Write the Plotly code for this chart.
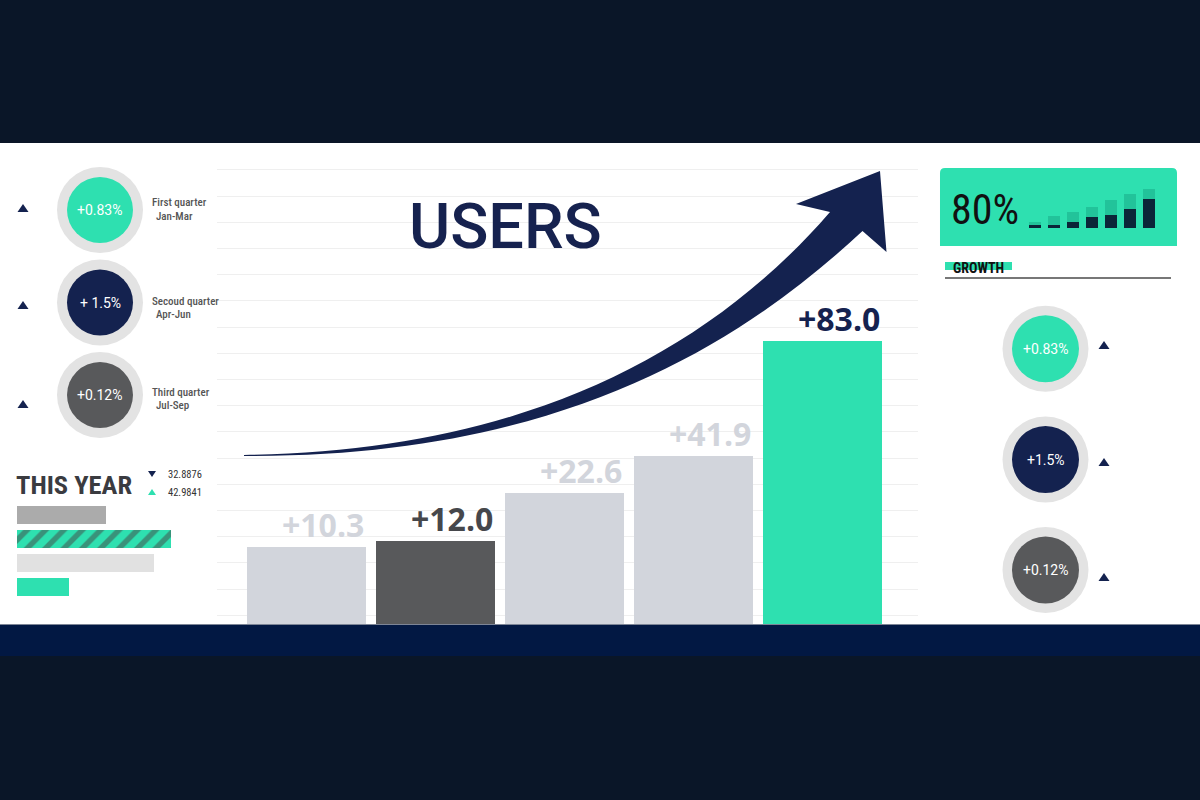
import plotly.graph_objects as go

W, H = 1200, 800

# ---------------- data ----------------
bar_categories = ["P1", "P2", "P3", "P4", "P5"]
bar_heights = [77, 83, 131, 168, 283]
bar_labels = ["+10.3", "+12.0", "+22.6", "+41.9", "+83.0"]
bar_colors = ["#d2d5dc", "#58595b", "#d2d5dc", "#d2d5dc", "#2ee0b0"]
label_colors = ["#d2d5dc", "#46474b", "#d2d5dc", "#d2d5dc", "#15224f"]

year_rows = ["r1", "r2", "r3", "r4"]
year_values = [89, 154, 137, 52]
year_colors = ["#ababab", "#2ee0b0", "#e1e1e1", "#2ee0b0"]
year_patterns = ["", "/", "", ""]

growth_steps = ["1", "2", "3", "4", "5", "6", "7"]
growth_dark = [3.3, 3.3, 6, 11, 13.3, 18.7, 29]
growth_light = [2.4, 8.4, 9.7, 9.7, 15, 15.6, 10.3]

quarter_values = ["+0.83%", "+ 1.5%", "+0.12%"]
quarter_names = ["First quarter", "Secoud quarter", "Third quarter"]
quarter_months = ["Jan-Mar", "Apr-Jun", "Jul-Sep"]
quarter_colors = ["#2ee0b0", "#14224f", "#58595b"]
right_values = ["+0.83%", "+1.5%", "+0.12%"]

this_year_numbers = ["32.8876", "42.9841"]
this_year_marks = ["down", "up"]

# ---------------- helpers (pixel -> paper) ----------------
def px(x):
    return x / W

def py(y):
    return 1 - y / H

def pt(x, y):
    return f"{px(x):.5f},{py(y):.5f}"

NAVY = "#14224f"
TEAL = "#2ee0b0"
NARROW = "Roboto Condensed, Liberation Sans Narrow, Roboto, sans-serif"

fig = go.Figure()

# main bars
fig.add_trace(go.Bar(
    x=bar_categories, y=bar_heights, marker=dict(color=bar_colors, line=dict(width=0)),
    width=119 / 129, xaxis="x", yaxis="y", hoverinfo="skip", showlegend=False))

# this-year horizontal bars
fig.add_trace(go.Bar(
    y=year_rows, x=year_values, orientation="h", width=0.75,
    marker=dict(color=year_colors, line=dict(width=0),
                pattern=dict(shape=year_patterns, fillmode="overlay", fgcolor="#5ab4c8",
                             size=13, solidity=0.42)),
    xaxis="x3", yaxis="y3", hoverinfo="skip", showlegend=False))

# growth mini stacked bars
fig.add_trace(go.Bar(x=growth_steps, y=growth_dark, width=0.63, marker=dict(color="#0b2538", line=dict(width=0)),
                     xaxis="x4", yaxis="y4", hoverinfo="skip", showlegend=False))
fig.add_trace(go.Bar(x=growth_steps, y=growth_light, width=0.63, marker=dict(color="#22c39a", line=dict(width=0)),
                     xaxis="x4", yaxis="y4", hoverinfo="skip", showlegend=False))

shapes = []
annotations = []

# background panels
shapes.append(dict(type="rect", xref="paper", yref="paper", x0=0, x1=1, y0=py(624), y1=py(143),
                   fillcolor="white", line_width=0, layer="below"))
shapes.append(dict(type="rect", xref="paper", yref="paper", x0=0, x1=1, y0=py(656), y1=py(624),
                   fillcolor="#021843", line_width=0, layer="below"))
shapes.append(dict(type="line", xref="paper", yref="paper", x0=0, x1=1, y0=py(624.5), y1=py(624.5),
                   line=dict(color="#7d8596", width=1), layer="below"))

# green growth box
box = (f"M {pt(940,246)} L {pt(940,173)} Q {pt(940,168)} {pt(945,168)} L {pt(1172,168)} "
       f"Q {pt(1177,168)} {pt(1177,173)} L {pt(1177,246)} Z")
shapes.append(dict(type="path", xref="paper", yref="paper", path=box, fillcolor=TEAL, line_width=0, layer="below"))
shapes.append(dict(type="rect", xref="paper", yref="paper", x0=px(945), x1=px(1012), y0=py(270), y1=py(262),
                   fillcolor=TEAL, line_width=0, layer="below"))
shapes.append(dict(type="line", xref="paper", yref="paper", x0=px(945), x1=px(1171), y0=py(278), y1=py(278),
                   line=dict(color="#4a4a4a", width=1.3), layer="below"))

# arrow
arrow = (f"M {pt(244,455)} C {pt(500,452)} {pt(695,368)} {pt(830,212)} "
         f"L {pt(796,204)} L {pt(880,171)} L {pt(886.5,252)} L {pt(862.5,231)} "
         f"C {pt(740,345)} {pt(560,458)} {pt(244,456)} Z")
shapes.append(dict(type="path", xref="paper", yref="paper", path=arrow, fillcolor=NAVY, line_width=0, layer="above"))

def circle(cx, cy, r, color):
    return dict(type="circle", xref="paper", yref="paper", x0=px(cx - r), x1=px(cx + r),
                y0=py(cy + r), y1=py(cy - r), fillcolor=color, line_width=0, layer="above")

def tri(cx, cy, w, h, up, color):
    if up:
        p = f"M {pt(cx - w/2, cy + h/2)} L {pt(cx + w/2, cy + h/2)} L {pt(cx, cy - h/2)} Z"
    else:
        p = f"M {pt(cx - w/2, cy - h/2)} L {pt(cx + w/2, cy - h/2)} L {pt(cx, cy + h/2)} Z"
    return dict(type="path", xref="paper", yref="paper", path=p, fillcolor=color, line_width=0, layer="above")

def text(x, y, s, size, color, family="Roboto", xanchor="left", weight="normal"):
    annotations.append(dict(xref="paper", yref="paper", x=px(x), y=py(y), text=s, showarrow=False,
                            xanchor=xanchor, yanchor="middle",
                            font=dict(family=family, size=size, color=color, weight=weight)))

# left circles
left_cy = [210, 302.5, 395]
left_tri_y = [208, 305, 404]
label_y = [(203, 216.5), (301.5, 314), (392, 405)]
for i in range(3):
    shapes.append(circle(100, left_cy[i], 43, "#e3e3e3"))
    shapes.append(circle(100, left_cy[i], 33, quarter_colors[i]))
    shapes.append(tri(23, left_tri_y[i], 11, 8, True, NAVY))
    text(100, left_cy[i], quarter_values[i], 14, "white", xanchor="center")
    text(150, label_y[i][0], quarter_names[i], 11, "#555555", family=NARROW, weight=500)
    text(154, label_y[i][1], quarter_months[i], 11, "#555555", family=NARROW, weight=500)

# right circles
right_cy = [348.7, 459.5, 570]
right_tri_y = [345, 462, 577]
for i in range(3):
    shapes.append(circle(1045.5, right_cy[i], 43, "#e3e3e3"))
    shapes.append(circle(1045.5, right_cy[i], 33.5, quarter_colors[i]))
    shapes.append(tri(1104, right_tri_y[i], 11, 8, True, NAVY))
    text(1045.5, right_cy[i], right_values[i], 14, "white", xanchor="center")

# THIS YEAR
text(14, 484, "THIS YEAR", 26.5, "#3a3b40", family=NARROW, weight="bold")
mark_y = [474, 492]
for i in range(2):
    up = this_year_marks[i] == "up"
    shapes.append(tri(152, mark_y[i], 8, 6, up, TEAL if up else NAVY))
    text(166, mark_y[i], this_year_numbers[i], 10.5, "#333333", family=NARROW)

# USERS title
text(505, 227, "USERS", 63, "#16224f", xanchor="center", weight=500)

# 80% and GROWTH
text(949, 210, "80%", 42, "#111111", family=NARROW)
text(951, 267.5, "GROWTH", 14, "#111111", family=NARROW, weight="bold")

# bar value labels
for i in range(len(bar_categories)):
    annotations.append(dict(xref="x", yref="y", x=i + 0.461, y=bar_heights[i], text=bar_labels[i],
                            showarrow=False, xanchor="right", yanchor="bottom", yshift=-1,
                            font=dict(family="Open Sans", size=32, color=label_colors[i], weight="bold")))

hidden = dict(visible=False, fixedrange=True)

fig.update_layout(
    width=W, height=H, margin=dict(l=0, r=0, t=0, b=0),
    paper_bgcolor="#0a1628", plot_bgcolor="rgba(0,0,0,0)",
    barmode="stack", showlegend=False,
    xaxis=dict(domain=[px(217), px(918)], range=[-0.694, 4.74], type="category",
               showgrid=False, showticklabels=False, showline=False, zeroline=False, ticks="", fixedrange=True),
    yaxis=dict(domain=[py(624), py(146)], range=[0, 478], tick0=8.7, dtick=26.2,
               showgrid=True, gridcolor="#efefef", gridwidth=1, showticklabels=False,
               showline=False, zeroline=False, ticks="", fixedrange=True),
    xaxis3=dict(domain=[px(17), px(217)], range=[0, 200], anchor="y3", **hidden),
    yaxis3=dict(domain=[py(598.95), py(503.35)], range=[3.5, -0.5], type="category", anchor="x3", **hidden),
    xaxis4=dict(domain=[px(1025.5), px(1158.5)], range=[-0.5, 6.5], type="category", anchor="y4", **hidden),
    yaxis4=dict(domain=[py(228), py(178)], range=[0, 50], anchor="x4", **hidden),
    shapes=shapes, annotations=annotations,
)

fig.write_html("out.html", config={"displayModeBar": False},
               post_script="document.body.style.margin='0px';document.body.style.overflow='hidden';")
